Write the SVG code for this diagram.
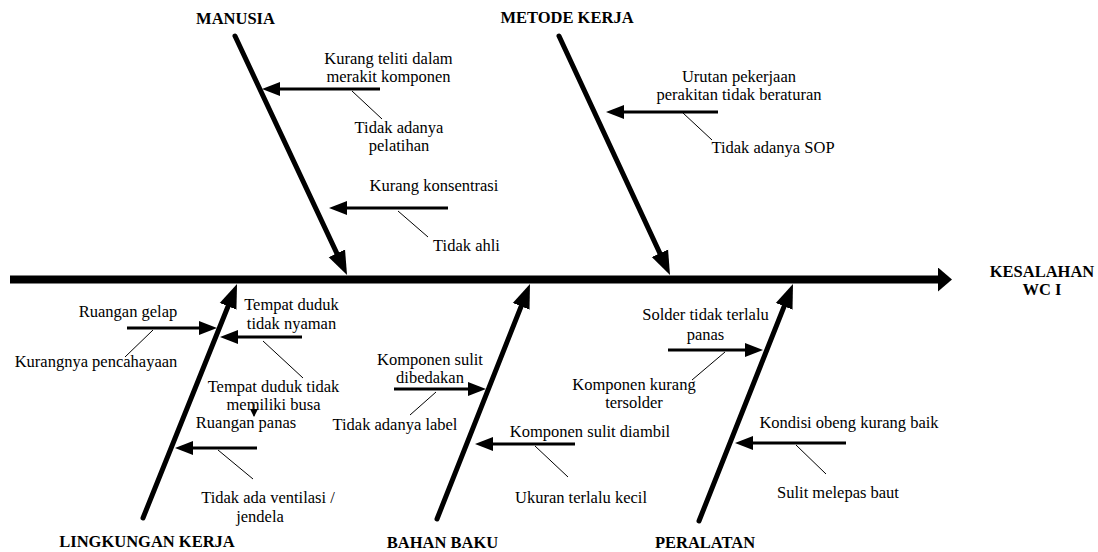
<svg xmlns="http://www.w3.org/2000/svg" width="1098" height="552" viewBox="0 0 1098 552">
<style>
text{font-family:"Liberation Serif","Times New Roman",serif;font-size:16.5px;fill:#000;text-anchor:middle}
.h{font-weight:bold}
.spine{stroke:#000;stroke-width:8;fill:none}
.bone{stroke:#000;stroke-width:5;fill:none;stroke-linecap:round}
.br{stroke:#000;stroke-width:3;fill:none}
.thin{stroke:#000;stroke-width:1;fill:none}
</style>
<defs>
<marker id="mSpine" markerUnits="userSpaceOnUse" markerWidth="16" markerHeight="24" viewBox="0 0 16 24" refX="2" refY="12" orient="auto"><path d="M0,0 L14,12 L0,24 z" fill="#000"/></marker>
<marker id="mBone" markerUnits="userSpaceOnUse" markerWidth="26" markerHeight="20" viewBox="0 0 26 20" refX="14" refY="10" orient="auto"><path d="M0,1 L24,10 L0,19 z" fill="#000"/></marker>
<marker id="mBr" markerUnits="userSpaceOnUse" markerWidth="20" markerHeight="16" viewBox="0 0 20 16" refX="12" refY="8" orient="auto"><path d="M0,1 L18,8 L0,15 z" fill="#000"/></marker>
<marker id="mSm" markerUnits="userSpaceOnUse" markerWidth="10" markerHeight="10" viewBox="0 0 10 10" refX="7" refY="5" orient="auto"><path d="M0,1 L8,5 L0,9 z" fill="#000"/></marker>
</defs>

<g id="connectors">
<line class="spine" x1="10" y1="279.5" x2="940" y2="279.5" marker-end="url(#mSpine)"/>
<line class="bone" x1="235" y1="36" x2="342.8" y2="266" marker-end="url(#mBone)"/>
<line class="bone" x1="559" y1="36" x2="665.8" y2="266" marker-end="url(#mBone)"/>
<line class="bone" x1="143" y1="518" x2="233.3" y2="293.3" marker-end="url(#mBone)"/>
<line class="bone" x1="437" y1="519" x2="526.3" y2="293.3" marker-end="url(#mBone)"/>
<line class="bone" x1="699" y1="521" x2="789.3" y2="293.3" marker-end="url(#mBone)"/>
<line class="br" x1="380" y1="89" x2="268" y2="89" marker-end="url(#mBr)"/>
<line class="br" x1="448" y1="208" x2="335" y2="208" marker-end="url(#mBr)"/>
<line class="br" x1="718" y1="112" x2="612" y2="112" marker-end="url(#mBr)"/>
<line class="br" x1="127" y1="328" x2="211" y2="328" marker-end="url(#mBr)"/>
<line class="br" x1="302" y1="337" x2="226" y2="337" marker-end="url(#mBr)"/>
<line class="br" x1="257" y1="448" x2="181" y2="448" marker-end="url(#mBr)"/>
<line class="br" x1="394" y1="389" x2="480" y2="389" marker-end="url(#mBr)"/>
<line class="br" x1="575" y1="444" x2="481" y2="444" marker-end="url(#mBr)"/>
<line class="br" x1="668" y1="350" x2="757" y2="350" marker-end="url(#mBr)"/>
<line class="br" x1="846" y1="443" x2="741" y2="443" marker-end="url(#mBr)"/>
<line class="thin" x1="352" y1="91" x2="382" y2="119"/>
<line class="thin" x1="398" y1="211" x2="428" y2="237"/>
<line class="thin" x1="683" y1="113" x2="712" y2="140"/>
<line class="thin" x1="153" y1="330" x2="125" y2="357"/>
<line class="thin" x1="263" y1="341" x2="303" y2="378"/>
<line class="thin" x1="218" y1="450" x2="253" y2="479"/>
<line class="thin" x1="436" y1="392" x2="410" y2="415"/>
<line class="thin" x1="535" y1="446" x2="568" y2="477"/>
<line class="thin" x1="725" y1="352" x2="692" y2="380"/>
<line class="thin" x1="796" y1="445" x2="826" y2="474"/>
<line class="thin" x1="254" y1="404" x2="254" y2="416" marker-end="url(#mSm)"/>
</g>

<g id="effect"><text class="h" x="1042" y="277">KESALAHAN</text><text class="h" x="1042" y="295">WC I</text></g>
<g id="cat-manusia"><text class="h" x="235.5" y="24">MANUSIA</text></g>
<g id="cat-metode"><text class="h" x="567" y="23">METODE KERJA</text></g>
<g id="cat-lingkungan"><text class="h" x="147" y="547">LINGKUNGAN KERJA</text></g>
<g id="cat-bahan"><text class="h" x="442.5" y="548">BAHAN BAKU</text></g>
<g id="cat-peralatan"><text class="h" x="705" y="548">PERALATAN</text></g>

<g id="c-kurang-teliti"><text x="388.5" y="63.5">Kurang teliti dalam</text><text x="388.5" y="81.7">merakit komponen</text></g>
<g id="s-pelatihan"><text x="399" y="132.5">Tidak adanya</text><text x="399" y="150.7">pelatihan</text></g>
<g id="c-konsentrasi"><text x="434" y="190.7">Kurang konsentrasi</text></g>
<g id="s-ahli"><text x="466.5" y="251">Tidak ahli</text></g>
<g id="c-urutan"><text x="739" y="82">Urutan pekerjaan</text><text x="739" y="100">perakitan tidak beraturan</text></g>
<g id="s-sop"><text x="773" y="153.3">Tidak adanya SOP</text></g>

<g id="c-gelap"><text x="128" y="316.7">Ruangan gelap</text></g>
<g id="s-pencahayaan"><text x="96" y="366.7">Kurangnya pencahayaan</text></g>
<g id="c-tempat"><text x="291.5" y="310">Tempat duduk</text><text x="291.5" y="329.3">tidak nyaman</text></g>
<g id="s-busa"><text x="273.5" y="391.5">Tempat duduk tidak</text><text x="273.5" y="409.5">memiliki busa</text></g>
<g id="c-panas"><text x="246" y="428.3">Ruangan panas</text></g>
<g id="s-ventilasi"><text x="268" y="503.3">Tidak ada ventilasi /</text><text x="260" y="521.7">jendela</text></g>

<g id="c-dibedakan"><text x="430" y="365">Komponen sulit</text><text x="430" y="383.3">dibedakan</text></g>
<g id="s-label"><text x="395" y="429.5">Tidak adanya label</text></g>
<g id="c-diambil"><text x="590" y="436.7">Komponen sulit diambil</text></g>
<g id="s-ukuran"><text x="581" y="503.3">Ukuran terlalu kecil</text></g>

<g id="c-solder"><text x="705.5" y="320">Solder tidak terlalu</text><text x="705.5" y="340">panas</text></g>
<g id="s-tersolder"><text x="634" y="390">Komponen kurang</text><text x="634" y="408.3">tersolder</text></g>
<g id="c-obeng"><text x="849" y="428.3">Kondisi obeng kurang baik</text></g>
<g id="s-baut"><text x="838" y="498.3">Sulit melepas baut</text></g>
</svg>
